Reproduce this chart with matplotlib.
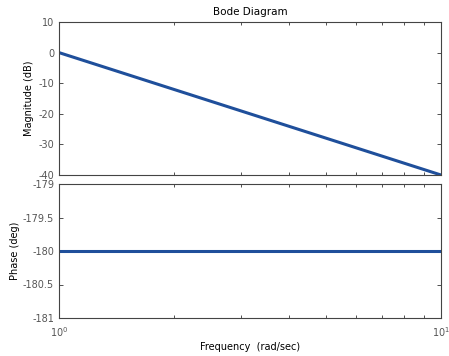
import matplotlib
matplotlib.use("Agg")
import matplotlib.pyplot as plt
from matplotlib.ticker import NullFormatter

# Bode data (1/s^2 style response)
freq = [1, 10]
magnitude_db = [0, -40]
phase_deg = [-180, -180]

mag_ticks = [10, 0, -10, -20, -30, -40]
phase_ticks = [-179, -179.5, -180, -180.5, -181]

line_color = '#1f4f9b'
tick_color = '#555555'

fig = plt.figure(figsize=(4.49, 3.56), dpi=100)
W, H = 449.0, 356.0
right = 441
ax1 = fig.add_axes([59/W, 1-175/H, (right-59)/W, (175-22)/H])
ax2 = fig.add_axes([59/W, 1-318/H, (right-59)/W, (318-184)/H])

for ax in (ax1, ax2):
    ax.set_xscale('log')
    ax.set_xlim(1, 10)
    ax.xaxis.set_minor_formatter(NullFormatter())
    ax.tick_params(which='both', direction='in', top=True, right=True,
                   labelsize=7, colors='#333333', labelcolor=tick_color,
                   length=3, width=0.6)
    ax.tick_params(which='minor', length=2)
    for s in ax.spines.values():
        s.set_linewidth(0.8)
        s.set_color('#444444')

ax1.plot(freq, magnitude_db, color=line_color, lw=2.2)
ax1.set_ylim(-40, 10)
ax1.set_yticks(mag_ticks)
ax1.set_yticklabels(['%g' % t for t in mag_ticks])
ax1.tick_params(axis='x', which='both', labelbottom=False)
ax1.set_ylabel('Magnitude (dB)', fontsize=7)
ax1.yaxis.set_label_coords((34-59)/(right-59), 0.5)
ax1.set_title('Bode Diagram', fontsize=7.5, pad=5)

ax2.plot(freq, phase_deg, color=line_color, lw=2.2)
ax2.set_ylim(-181, -179)
ax2.set_yticks(phase_ticks)
ax2.set_yticklabels(['%g' % t for t in phase_ticks])
ax2.set_xticks([1, 10])
ax2.set_xticklabels(['$10^0$', '$10^1$'])
ax2.tick_params(axis='x', pad=5)
ax2.set_ylabel('Phase (deg)', fontsize=7)
ax2.yaxis.set_label_coords((20-59)/(right-59), 0.5)
ax2.set_xlabel('Frequency  (rad/sec)', fontsize=7)
ax2.xaxis.set_label_coords(0.5, (318-342)/134.0)

fig.savefig('out.png', dpi=100)
